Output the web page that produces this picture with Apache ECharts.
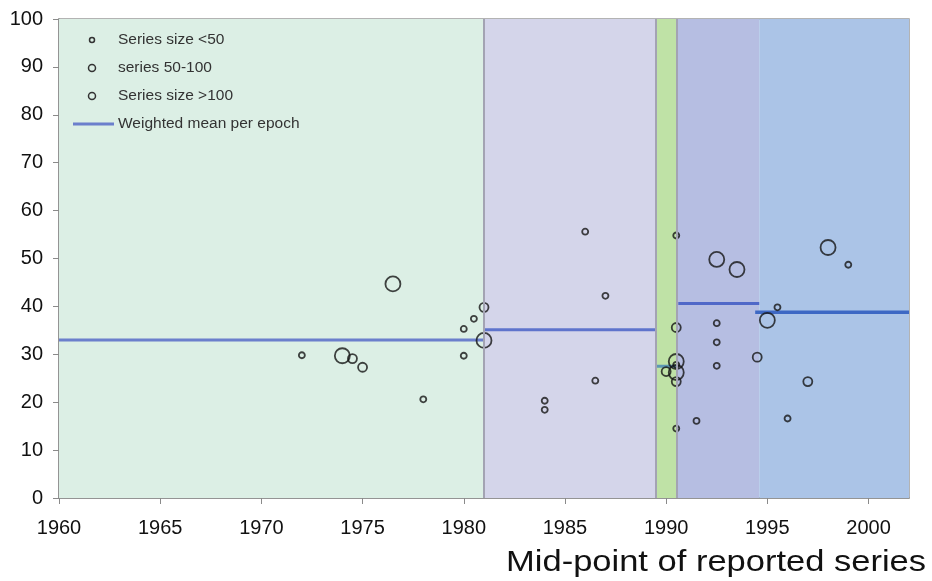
<!DOCTYPE html>
<html>
<head>
<meta charset="utf-8">
<script src="https://cdn.jsdelivr.net/npm/echarts@6/dist/echarts.min.js"></script>
<style>
  html, body { margin: 0; padding: 0; background: #fff; }
  #chart { width: 932px; height: 581px; }
</style>
</head>
<body>
<div id="chart"></div>
<script>
// 各样本量分组的点 [年份, 百分比]
var smallSeries = [
  [1972, 29.8], [1978, 20.6], [1980, 35.3], [1980, 29.7], [1980.5, 37.4],
  [1984, 20.3], [1984, 18.4], [1986, 55.6], [1986.5, 24.5], [1987, 42.2],
  [1990.5, 54.8], [1990.5, 27.8], [1990.5, 14.5], [1991.5, 16.1],
  [1992.5, 36.5], [1992.5, 32.5], [1992.5, 27.6], [1995.5, 39.8],
  [1996, 16.6], [1999, 48.7]
];
var mediumSeries = [
  [1974.5, 29.1], [1975, 27.3], [1981, 39.8], [1990, 26.4],
  [1990.5, 35.6], [1990.5, 24.3], [1994.5, 29.4], [1997, 24.3]
];
var largeSeries = [
  [1974, 29.7], [1976.5, 44.7], [1981, 32.9], [1990.5, 28.5], [1990.5, 26.2],
  [1992.5, 49.8], [1993.5, 47.7], [1995, 37.1], [1998, 52.3]
];

// 每个时期的加权平均
var epochStart = [1960, 1981, 1989.5, 1990.6, 1994.4];
var epochEnd = [1981, 1989.5, 1990.5, 1994.6, 2002];
var epochMean = [33.0, 35.1, 27.5, 40.6, 38.8];

// 背景分区
var bandStart = [1960, 1981, 1989.5, 1990.5, 1994.6];
var bandEnd = [1981, 1989.5, 1990.5, 1994.6, 2002];
var bandColor = ['#dcefe5', '#d4d5ea', '#bfe2a6', '#b6bee2', '#abc4e7'];
var bandEdges = [1981, 1989.5, 1990.5];

var yTicks = [0, 10, 20, 30, 40, 50, 60, 70, 80, 90, 100];
var legendNames = ['Series size <50', 'series 50-100', 'Series size >100', 'Weighted mean per epoch'];

var chart = echarts.init(document.getElementById('chart'));

var meanColors = ['#6b7fcc', '#5f74cc', '#5c97b4', '#5068c8', '#3d68c4'];
var meanSeries = epochMean.map(function (m, i) {
  return {
    type: 'line',
    data: [[epochStart[i], m], [epochEnd[i], m]],
    symbol: 'none',
    silent: true,
    z: 3,
    lineStyle: { color: meanColors[i], width: i === 4 ? 3.5 : 3 }
  };
});

function scatter(data, size) {
  return {
    type: 'scatter',
    data: data,
    symbol: 'circle',
    symbolSize: size,
    z: 4,
    itemStyle: { color: 'rgba(0,0,0,0)', borderColor: '#151515', borderWidth: 1.8 }
  };
}

var bgSeries = {
  type: 'scatter',
  data: [],
  silent: true,
  z: 1,
  markArea: {
    silent: true,
    data: bandColor.map(function (c, i) {
      return [{ xAxis: bandStart[i], itemStyle: { color: c } }, { xAxis: bandEnd[i] }];
    })
  },
  markLine: {
    silent: true,
    symbol: 'none',
    label: { show: false },
    lineStyle: { color: '#a3a3b3', width: 2, type: 'solid' },
    data: bandEdges.map(function (x) { return { xAxis: x }; })
  }
};

// 图例（左上角）
var legendGraphic = [];
var legendY = [40, 68, 96, 124];
var legendSizes = [5, 7, 7];
legendNames.forEach(function (name, i) {
  if (i < 3) {
    legendGraphic.push({
      type: 'circle',
      shape: { cx: 92, cy: legendY[i], r: legendSizes[i] / 2 },
      style: { fill: 'none', stroke: '#333', lineWidth: 1.5 },
      z: 10
    });
  } else {
    legendGraphic.push({
      type: 'line',
      shape: { x1: 73, y1: legendY[i], x2: 114, y2: legendY[i] },
      style: { stroke: '#6b7fcc', lineWidth: 3 },
      z: 10
    });
  }
  legendGraphic.push({
    type: 'text',
    x: 118,
    y: legendY[i],
    style: {
      text: name,
      font: '15.5px "Liberation Sans", Arial, sans-serif',
      fill: '#333',
      verticalAlign: 'middle'
    },
    z: 10
  });
});

legendGraphic.push({
  type: 'text',
  x: 926,
  y: 563,
  scaleX: 1.15,
  originX: 0,
  originY: 0,
  style: {
    text: 'Mid-point of reported series',
    font: '30px "Liberation Sans", Arial, sans-serif',
    fill: '#111',
    align: 'right',
    verticalAlign: 'middle'
  },
  z: 10
});

chart.setOption({
  animation: false,
  backgroundColor: '#fff',
  grid: {
    left: 59, right: 23, top: 19, bottom: 83,
    show: true,
    borderColor: '#9a9a9a',
    borderWidth: 1.5,
    backgroundColor: 'transparent'
  },
  xAxis: {
    type: 'value',
    min: 1960,
    max: 2002,
    interval: 5,
    splitLine: { show: false },
    axisLine: { lineStyle: { color: '#8a8a8a', width: 1.5 } },
    axisTick: { show: true, length: 6, lineStyle: { color: '#8a8a8a' } },
    axisLabel: {
      margin: 20,
      fontSize: 20,
      color: '#111',
      fontFamily: '"Liberation Sans", Arial, sans-serif',
      showMaxLabel: false,
      formatter: function (v) { return v % 5 === 0 ? String(v) : ''; }
    }
  },
  yAxis: {
    type: 'value',
    min: yTicks[0],
    max: yTicks[yTicks.length - 1],
    interval: 10,
    splitLine: { show: false },
    axisLine: { show: true, lineStyle: { color: '#8a8a8a', width: 1.5 } },
    axisTick: { show: true, length: 6, lineStyle: { color: '#8a8a8a' } },
    axisLabel: {
      margin: 16,
      fontSize: 20,
      color: '#111',
      fontFamily: '"Liberation Sans", Arial, sans-serif'
    }
  },
  graphic: legendGraphic,
  series: [bgSeries].concat(meanSeries, [
    scatter(smallSeries, 6),
    scatter(mediumSeries, 9),
    scatter(largeSeries, 15)
  ])
});
</script>
</body>
</html>
